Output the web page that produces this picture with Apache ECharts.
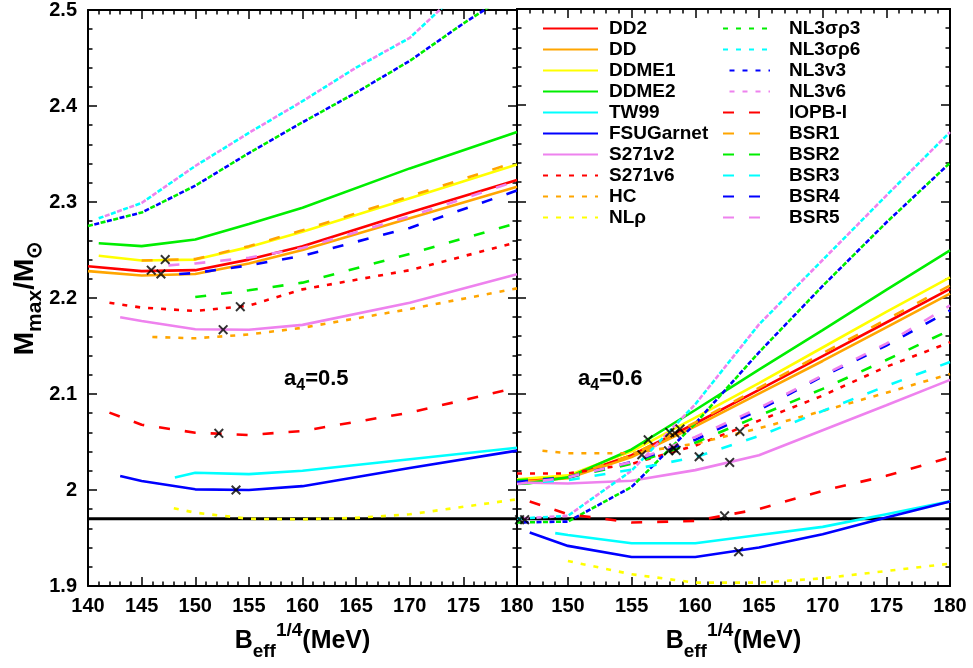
<!DOCTYPE html>
<html>
<head>
<meta charset="utf-8">
<script src="https://cdn.jsdelivr.net/npm/echarts@6/dist/echarts.min.js"></script>
<style>html,body{margin:0;padding:0;background:#fff}#c{width:973px;height:668px}</style>
</head>
<body>
<div id="c"></div>
<script>
// ---------------- DATA ----------------
// x: B_eff^{1/4} (MeV), y: M_max / M_sun
// panel a4 = 0.5 (suffix _05) and a4 = 0.6 (suffix _06)
const DD2_05 = [[140,2.233],[145,2.228],[150,2.229],[155,2.240],[160,2.254],[170,2.289],[180,2.323]];
const DD_05 = [[140,2.228],[145,2.2235],[150,2.225],[155,2.236],[160,2.250],[170,2.283],[180,2.316]];
const DDME1_05 = [[141,2.244],[145,2.239],[150,2.240],[155,2.253],[160,2.269],[170,2.304],[180,2.339]];
const DDME2_05 = [[141,2.257],[145,2.254],[150,2.261],[155,2.277],[160,2.294],[170,2.335],[180,2.373]];
const TW99_05 = [[148.1,2.013],[150,2.018],[155,2.0165],[160,2.020],[170,2.032],[180,2.044]];
const FSUGarnet_05 = [[143,2.0146],[145,2.0094],[150,2.0007],[155,2.000],[160,2.004],[170,2.023],[180,2.041]];
const S271v2_05 = [[143,2.180],[145,2.176],[150,2.1674],[155,2.167],[160,2.172],[170,2.195],[180,2.2247]];
const S271v6_05 = [[142,2.195],[145,2.190],[150,2.1865],[155,2.192],[160,2.209],[170,2.229],[180,2.258]];
const HC_05 = [[146,2.1594],[150,2.158],[155,2.162],[160,2.169],[170,2.1885],[180,2.21]];
const NLrho_05 = [[148,1.981],[150,1.9764],[155,1.970],[160,1.9695],[165,1.971],[170,1.9747],[180,1.9903]];
const NL3sr3_05 = [[140,2.275],[145,2.289],[150,2.317],[155,2.351],[160,2.383],[165,2.414],[170,2.447],[175,2.486],[180,2.522]];
const NL3sr6_05 = [[141,2.283],[145,2.299],[150,2.3375],[155,2.372],[160,2.405],[165,2.44],[170,2.471],[175,2.523],[180,2.565]];
const NL3v3_05 = [[140,2.275],[145,2.289],[150,2.317],[155,2.351],[160,2.383],[165,2.414],[170,2.447],[175,2.486],[180,2.522]];
const NL3v6_05 = [[141,2.283],[145,2.299],[150,2.3375],[155,2.372],[160,2.405],[165,2.44],[170,2.471],[175,2.523],[180,2.565]];
const IOPB_05 = [[142,2.0806],[145,2.068],[150,2.0597],[155,2.0573],[160,2.0615],[170,2.0806],[180,2.1066]];
const BSR1_05 = [[145,2.239],[150,2.2405],[155,2.254],[160,2.2705],[170,2.306],[180,2.342]];
const BSR2_05 = [[150,2.201],[155,2.208],[160,2.216],[170,2.246],[180,2.278]];
const BSR3_05 = [];
const BSR4_05 = [[148.5,2.225],[150,2.226],[155,2.234],[160,2.244],[170,2.273],[180,2.312]];
const BSR5_05 = [[147.5,2.234],[150,2.236],[155,2.242],[160,2.252],[170,2.285],[180,2.322]];

const DD2_06 = [[146,2.010],[147,2.011],[150,2.013],[155,2.036],[160,2.069],[165,2.104],[170,2.139],[175,2.174],[180,2.209]];
const DD_06 = [[146,2.008],[147,2.009],[150,2.012],[155,2.034],[160,2.066],[165,2.100],[170,2.134],[175,2.169],[180,2.204]];
const DDME1_06 = [[146,2.011],[147,2.012],[150,2.015],[155,2.040],[160,2.075],[165,2.111],[170,2.148],[175,2.185],[180,2.221]];
const DDME2_06 = [[146,2.006],[147,2.007],[150,2.013],[155,2.042],[160,2.083],[165,2.125],[170,2.166],[175,2.208],[180,2.249]];
const TW99_06 = [[149,1.955],[150,1.953],[155,1.9445],[160,1.9445],[165,1.953],[170,1.9615],[175,1.9747],[180,1.988]];
const FSUGarnet_06 = [[147,1.9556],[150,1.9417],[155,1.9302],[160,1.9302],[165,1.940],[170,1.9538],[175,1.9712],[180,1.9878]];
const S271v2_06 = [[146,2.0076],[150,2.0066],[155,2.0094],[160,2.0205],[165,2.036],[170,2.062],[175,2.088],[180,2.1143]];
const S271v6_06 = [[146,2.017],[150,2.017],[155,2.027],[160,2.046],[165,2.072],[170,2.098],[175,2.128],[180,2.1534]];
const HC_06 = [[148,2.0406],[150,2.038],[155,2.038],[160,2.048],[165,2.064],[170,2.082],[175,2.101],[180,2.1205]];
const NLrho_06 = [[150,1.926],[155,1.9122],[160,1.9035],[165,1.9035],[170,1.908],[180,1.9232]];
const NL3sr3_06 = [[146,1.966],[150,1.967],[155,2.003],[160,2.069],[165,2.143],[170,2.212],[175,2.278],[180,2.34]];
const NL3sr6_06 = [[146,1.970],[150,1.973],[155,2.020],[160,2.089],[165,2.172],[170,2.239],[175,2.306],[180,2.372]];
const NL3v3_06 = [[146,1.966],[150,1.967],[155,2.003],[160,2.069],[165,2.143],[170,2.212],[175,2.278],[180,2.34]];
const NL3v6_06 = [[146,1.970],[150,1.973],[155,2.020],[160,2.089],[165,2.172],[170,2.239],[175,2.306],[180,2.372]];
const IOPB_06 = [[147,1.9878],[150,1.9747],[155,1.966],[160,1.9677],[165,1.980],[170,1.999],[175,2.0146],[180,2.0337]];
const BSR1_06 = [[146,2.009],[150,2.013],[155,2.036],[160,2.070],[165,2.106],[170,2.142],[175,2.177],[180,2.2125]];
const BSR2_06 = [[146,2.010],[150,2.013],[155,2.027],[160,2.049],[165,2.077],[170,2.105],[175,2.135],[180,2.166]];
const BSR3_06 = [[146,2.007],[150,2.010],[155,2.021],[160,2.034],[165,2.056],[170,2.082],[175,2.108],[180,2.133]];
const BSR4_06 = [[146,2.008],[150,2.013],[155,2.029],[160,2.052],[165,2.083],[170,2.118],[175,2.150],[180,2.1865]];
const BSR5_06 = [[146,2.006],[150,2.013],[155,2.029],[160,2.055],[165,2.085],[170,2.119],[175,2.152],[180,2.1917]];

// cross markers
const X_05 = [[145.9,2.229],[146.8,2.225],[147.2,2.240],[154.2,2.191],[152.6,2.167],[152.2,2.059],[153.8,2.000]];
const X_06 = [[146.2,1.969],[146.6,1.969],[156.3,2.052],[155.8,2.0365],[158.0,2.0597],[158.4,2.059],[158.8,2.0632],[157.9,2.0406],[158.3,2.0434],[158.5,2.041],[160.3,2.0344],[162.3,1.973],[162.7,2.0285],[163.5,2.0607],[163.4,1.9357]];

// observational bound
const M_OBS = 1.97;

// axis ticks
const X_MAJOR_06 = [150,155,160,165,170,175,180];
const X_MINOR_06 = [];
for (let v = 146; v <= 180; v++) X_MINOR_06.push(v);
const Y_MIN = 1.9, Y_MAX = 2.5;

// ---------------- STYLE ----------------
const FONT = "'Liberation Sans', Arial, Helvetica, sans-serif";
const C = {red:'#ff0000', orange:'#ffa500', yellow:'#ffff00', green:'#00ee00', cyan:'#00ffff', blue:'#0000ff', violet:'#ee82ee'};
const DOT = [5, 8], DASH = [11, 15];

const models = [
  {name:'DD2', color:C.red, type:'solid', a:DD2_05, b:DD2_06},
  {name:'DD', color:C.orange, type:'solid', a:DD_05, b:DD_06},
  {name:'DDME1', color:C.yellow, type:'solid', a:DDME1_05, b:DDME1_06},
  {name:'DDME2', color:C.green, type:'solid', a:DDME2_05, b:DDME2_06},
  {name:'TW99', color:C.cyan, type:'solid', a:TW99_05, b:TW99_06},
  {name:'FSUGarnet', color:C.blue, type:'solid', a:FSUGarnet_05, b:FSUGarnet_06},
  {name:'S271v2', color:C.violet, type:'solid', a:S271v2_05, b:S271v2_06},
  {name:'S271v6', color:C.red, type:DOT, a:S271v6_05, b:S271v6_06},
  {name:'HC', color:C.orange, type:DOT, a:HC_05, b:HC_06},
  {name:'NLρ', color:C.yellow, type:DOT, a:NLrho_05, b:NLrho_06},
  {name:'NL3σρ3', color:C.green, type:DOT, a:NL3sr3_05, b:NL3sr3_06},
  {name:'NL3σρ6', color:C.cyan, type:DOT, a:NL3sr6_05, b:NL3sr6_06},
  {name:'NL3v3', color:C.blue, type:DOT, a:NL3v3_05, b:NL3v3_06, offset:6.5},
  {name:'NL3v6', color:C.violet, type:DOT, a:NL3v6_05, b:NL3v6_06, offset:6.5},
  {name:'IOPB-I', color:C.red, type:DASH, a:IOPB_05, b:IOPB_06},
  {name:'BSR1', color:C.orange, type:DASH, a:BSR1_05, b:BSR1_06},
  {name:'BSR2', color:C.green, type:DASH, a:BSR2_05, b:BSR2_06},
  {name:'BSR3', color:C.cyan, type:DASH, a:BSR3_05, b:BSR3_06},
  {name:'BSR4', color:C.blue, type:DASH, a:BSR4_05, b:BSR4_06},
  {name:'BSR5', color:C.violet, type:DASH, a:BSR5_05, b:BSR5_06}
];

const series = [];
series.push({type:'line', name:'obs05', xAxisIndex:0, yAxisIndex:0, data:[[140,M_OBS],[180,M_OBS]], symbol:'none', lineStyle:{color:'#000', width:3}, z:1, silent:true});
series.push({type:'line', name:'obs06', xAxisIndex:2, yAxisIndex:2, data:[[146,M_OBS],[180,M_OBS]], symbol:'none', lineStyle:{color:'#000', width:3}, z:1, silent:true});

models.forEach(m => {
  [[m.a,0],[m.b,2]].forEach(([d,ai]) => {
    series.push({
      type:'line', name:m.name, xAxisIndex:ai, yAxisIndex:ai, data:d,
      symbol:'none', clip:true, z:2, silent:true,
      itemStyle:{color:m.color},
      lineStyle:{color:m.color, width:2.6, type:m.type, dashOffset:m.offset || 0, cap:'butt'}
    });
  });
});

const xSym = 'path://M0,1.4L1.4,0L5,3.6L8.6,0L10,1.4L6.4,5L10,8.6L8.6,10L5,6.4L1.4,10L0,8.6L3.6,5Z';
series.push({type:'scatter', name:'x05', xAxisIndex:0, yAxisIndex:0, data:X_05, symbol:xSym, symbolSize:10, itemStyle:{color:'#000'}, z:5, clip:false, silent:true});
series.push({type:'scatter', name:'x06', xAxisIndex:2, yAxisIndex:2, data:X_06, symbol:xSym, symbolSize:10, itemStyle:{color:'#000'}, z:5, clip:false, silent:true});

const axisLine = {show:true, onZero:false, lineStyle:{color:'#000', width:2}};
const tickMaj = {show:true, inside:true, length:9, lineStyle:{color:'#000', width:1.5}};
const tickMin = {show:true, inside:true, length:4.5, lineStyle:{color:'#000', width:1.5}};
const lbl = {fontFamily:FONT, fontWeight:'bold', fontSize:20, color:'#000'};

const xName = {
  name:'{b|B}{s|eff}{p|1/4}{b|(MeV)}', nameLocation:'middle', nameGap:35,
  nameTextStyle:{fontFamily:FONT, fontWeight:'bold', color:'#000', rich:{
    b:{fontFamily:FONT, fontWeight:'bold', fontSize:25, lineHeight:40, verticalAlign:'middle', color:'#000'},
    s:{fontFamily:FONT, fontWeight:'bold', fontSize:19, lineHeight:19, verticalAlign:'bottom', color:'#000'},
    p:{fontFamily:FONT, fontWeight:'bold', fontSize:19, lineHeight:19, verticalAlign:'top', color:'#000'}
  }}
};

const xAxis = [
  Object.assign({type:'value', gridIndex:0, position:'bottom', min:140, max:180, interval:5,
    axisLine, axisTick:tickMaj, minorTick:Object.assign({splitNumber:5}, tickMin),
    axisLabel:Object.assign({margin:10}, lbl), splitLine:{show:false}}, xName),
  {type:'value', gridIndex:0, position:'top', min:140, max:180, interval:5,
    axisLine, axisTick:tickMaj, minorTick:Object.assign({splitNumber:5}, tickMin),
    axisLabel:{show:false}, splitLine:{show:false}},
  Object.assign({type:'value', gridIndex:1, position:'bottom', min:146, max:180,
    axisLine, axisTick:Object.assign({customValues:X_MAJOR_06}, tickMaj),
    axisLabel:Object.assign({margin:10, customValues:X_MAJOR_06}, lbl), splitLine:{show:false}}, xName),
  {type:'value', gridIndex:1, position:'bottom', min:146, max:180,
    axisLine, axisTick:Object.assign({customValues:X_MINOR_06}, tickMin),
    axisLabel:{show:false}, splitLine:{show:false}},
  {type:'value', gridIndex:1, position:'top', min:146, max:180,
    axisLine, axisTick:Object.assign({customValues:X_MAJOR_06}, tickMaj),
    axisLabel:{show:false}, splitLine:{show:false}},
  {type:'value', gridIndex:1, position:'top', min:146, max:180,
    axisLine, axisTick:Object.assign({customValues:X_MINOR_06}, tickMin),
    axisLabel:{show:false}, splitLine:{show:false}}
];

const yBase = {type:'value', min:Y_MIN, max:Y_MAX, interval:0.1, axisLine,
  axisTick:tickMaj, minorTick:Object.assign({splitNumber:5}, tickMin), splitLine:{show:false}};
const yAxis = [
  Object.assign({}, yBase, {gridIndex:0, position:'left',
    axisLabel:Object.assign({margin:11}, lbl),
    name:'{b|M}{s|max}{b|/M}{s|⊙}', nameLocation:'middle', nameGap:40, nameRotate:90,
    nameTextStyle:{rich:{
      b:{fontFamily:FONT, fontWeight:'bold', fontSize:28, lineHeight:40, verticalAlign:'middle', color:'#000'},
      s:{fontFamily:FONT, fontWeight:'bold', fontSize:21, lineHeight:19, verticalAlign:'bottom', color:'#000'}
    }}}),
  Object.assign({}, yBase, {gridIndex:0, position:'right', axisLabel:{show:false}}),
  Object.assign({}, yBase, {gridIndex:1, position:'left', axisLabel:{show:false}}),
  Object.assign({}, yBase, {gridIndex:1, position:'right', axisLabel:{show:false}})
];

const legTxt = {fontFamily:FONT, fontWeight:'bold', fontSize:19, color:'#000', lineHeight:19};
const legend = [
  {data:models.slice(0,10).map(m=>m.name), orient:'vertical', left:542, top:19, itemWidth:55, itemHeight:14, itemGap:2,
    selectedMode:false, itemStyle:{opacity:0}, textStyle:Object.assign({padding:[0,0,0,6]}, legTxt), padding:0},
  {data:models.slice(10).map(m=>m.name), orient:'vertical', left:722, top:19, itemWidth:47, itemHeight:14, itemGap:2,
    selectedMode:false, itemStyle:{opacity:0}, textStyle:Object.assign({padding:[0,0,0,14]}, legTxt), padding:0}
];

const annRich = {
  a:{fontFamily:FONT, fontWeight:'bold', fontSize:22, lineHeight:30, verticalAlign:'middle', color:'#000'},
  s:{fontFamily:FONT, fontWeight:'bold', fontSize:16, lineHeight:14, verticalAlign:'bottom', color:'#000'}
};
const title = [
  {text:'{a|a}{s|4}{a|=0.5}', left:284, top:364, padding:0, textStyle:{rich:annRich}},
  {text:'{a|a}{s|4}{a|=0.6}', left:578, top:364, padding:0, textStyle:{rich:annRich}}
];

const chart = echarts.init(document.getElementById('c'), null, {renderer:'canvas'});
chart.setOption({
  animation:false,
  backgroundColor:'#fff',
  title, legend,
  grid:[
    {left:88, top:9, width:429, height:577},
    {left:517, top:9, width:433, height:577}
  ],
  xAxis, yAxis, series
});
</script>
</body>
</html>
